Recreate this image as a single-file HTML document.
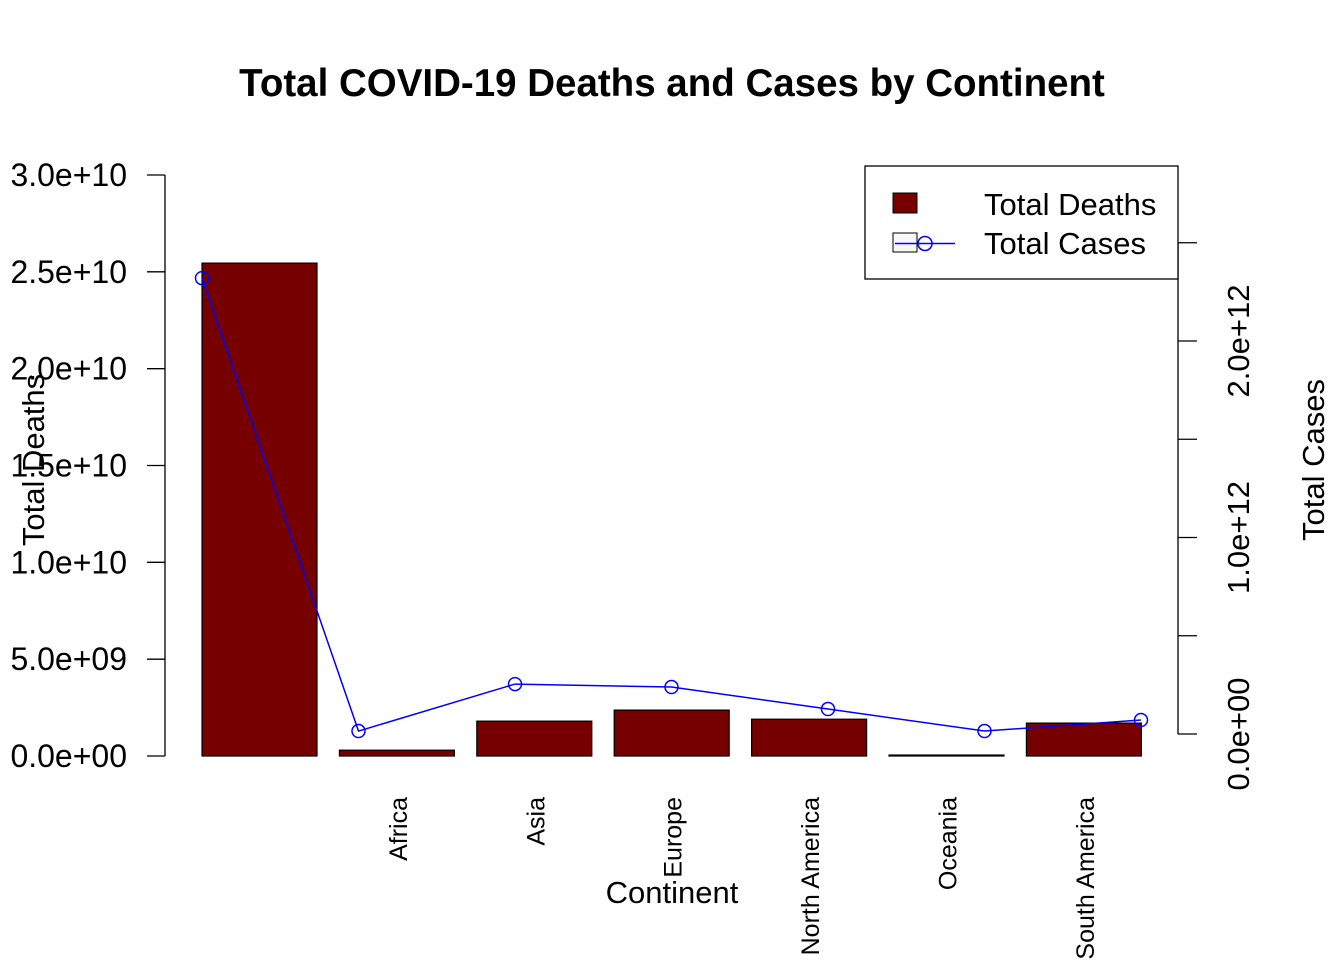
<!DOCTYPE html>
<html><head><meta charset="utf-8"><style>
body{margin:0;background:#fff}
svg text{font-family:"Liberation Sans",Arial,sans-serif}
</style></head><body>
<svg id="chart" width="1344" height="960" xmlns="http://www.w3.org/2000/svg">
<text x="672" y="96" text-anchor="middle" font-size="38.5" font-weight="bold">Total COVID-19 Deaths and Cases by Continent</text>
<g id="bars"></g>
<g id="line"></g>
<g id="axes"></g>
<text x="672" y="903" text-anchor="middle" font-size="31">Continent</text>
<text transform="translate(44,460) rotate(-90)" text-anchor="middle" font-size="31">Total Deaths</text>
<text transform="translate(1324,460) rotate(-90)" text-anchor="middle" font-size="31">Total Cases</text>
<g>
<rect x="865" y="166" width="313" height="113" fill="#fff" stroke="#000" stroke-width="1.3"/>
<rect x="893" y="193" width="24" height="20" fill="#760000" stroke="#000"/>
<text x="984" y="215" font-size="31">Total Deaths</text>
<rect x="893" y="233" width="24" height="19" fill="#f8f8f8" stroke="#000"/>
<line x1="895" y1="243.5" x2="955" y2="243.5" stroke="#00f" stroke-width="1.5"/>
<circle cx="925" cy="243.5" r="7" fill="none" stroke="#00f" stroke-width="1.5"/>
<text x="984" y="254" font-size="31">Total Cases</text>
</g>
</svg>
<script>
const categories = ["", "Africa", "Asia", "Europe", "North America", "Oceania", "South America"];
const deaths = [2.545e10, 3.0e8, 1.8e9, 2.37e9, 1.9e9, 5e7, 1.7e9];
const cases = [2.32e12, 1.5e10, 2.54e11, 2.39e11, 1.27e11, 1.5e10, 7.1e10];
const leftTicks = [0, 5e9, 1e10, 1.5e10, 2e10, 2.5e10, 3e10];
const leftTickLabels = ["0.0e+00","5.0e+09","1.0e+10","1.5e+10","2.0e+10","2.5e+10","3.0e+10"];
const rightTicks = [0, 5e11, 1e12, 1.5e12, 2e12, 2.5e12];
const rightTickLabels = ["0.0e+00","","1.0e+12","","2.0e+12",""];

const NS="http://www.w3.org/2000/svg";
function mk(tag,attrs,parent){const e=document.createElementNS(NS,tag);for(const k in attrs)e.setAttribute(k,attrs[k]);parent.appendChild(e);return e;}
const yL=v=>756-v*(581/3e10);
const yR=v=>734-v*(196.5/1e12);
const barX=i=>202+i*137.4;
const barW=115;
const ptX=i=>202+i*(939/(categories.length-1));

const gb=document.getElementById('bars');
deaths.forEach((d,i)=>{
  const r=mk('rect',{x:barX(i),y:yL(d),width:barW,height:756-yL(d),fill:'#760000',stroke:'#000','stroke-width':1.2},gb);
  
  
  const t=mk('text',{transform:`translate(${barX(i)+barW/2+10},797) rotate(-90)`,'text-anchor':'end','font-size':25},gb);
  t.textContent=categories[i];
  
  
});

const gl=document.getElementById('line');
mk('polyline',{points:cases.map((c,i)=>ptX(i)+','+yR(c)).join(' '),fill:'none',stroke:'#00f','stroke-width':1.5},gl);
cases.forEach((c,i)=>{
  const p=mk('circle',{cx:ptX(i),cy:yR(c),r:6.5,fill:'none',stroke:'#00f','stroke-width':1.5},gl);
  
  
});

const ga=document.getElementById('axes');
mk('line',{x1:165,y1:yL(3e10),x2:165,y2:yL(0),stroke:'#000','stroke-width':1.3},ga);
leftTicks.forEach((v,i)=>{
  mk('line',{x1:147,y1:yL(v),x2:165,y2:yL(v),stroke:'#000','stroke-width':1.3},ga);
  const t=mk('text',{x:127,y:yL(v)+11,'text-anchor':'end','font-size':32},ga);
  t.textContent=leftTickLabels[i];
  
  
});
mk('line',{x1:1178,y1:yR(2.5e12),x2:1178,y2:yR(0),stroke:'#000','stroke-width':1.3},ga);
rightTicks.forEach((v,i)=>{
  mk('line',{x1:1178,y1:yR(v),x2:1197,y2:yR(v),stroke:'#000','stroke-width':1.3},ga);
  if(rightTickLabels[i]){
    const t=mk('text',{transform:`translate(1249,${yR(v)}) rotate(-90)`,'text-anchor':'middle','font-size':31},ga);
    t.textContent=rightTickLabels[i];
    
    
  }
});
</script>
</body></html>
